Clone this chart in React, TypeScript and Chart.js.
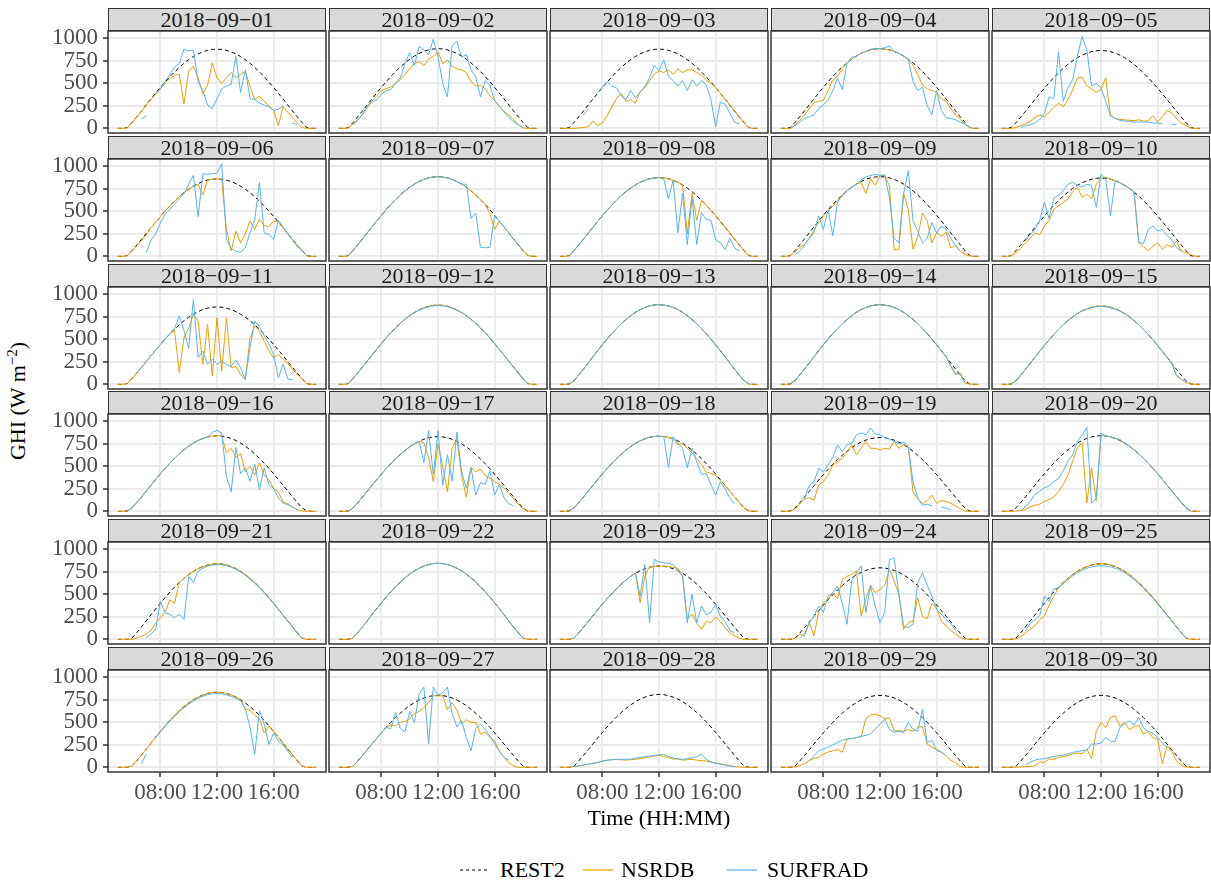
import React, { useEffect, useRef } from "react";
import { Chart, registerables } from "chart.js";

Chart.register(...registerables);

const N = null;

const dates = [
  "2018-09-01", "2018-09-02", "2018-09-03", "2018-09-04", "2018-09-05",
  "2018-09-06", "2018-09-07", "2018-09-08", "2018-09-09", "2018-09-10",
  "2018-09-11", "2018-09-12", "2018-09-13", "2018-09-14", "2018-09-15",
  "2018-09-16", "2018-09-17", "2018-09-18", "2018-09-19", "2018-09-20",
  "2018-09-21", "2018-09-22", "2018-09-23", "2018-09-24", "2018-09-25",
  "2018-09-26", "2018-09-27", "2018-09-28", "2018-09-29", "2018-09-30",
];

const times = [
  "05:00", "05:20", "05:40", "06:00", "06:20", "06:40", "07:00", "07:20", "07:40",
  "08:00", "08:20", "08:40", "09:00", "09:20", "09:40", "10:00", "10:20", "10:40",
  "11:00", "11:20", "11:40", "12:00", "12:20", "12:40", "13:00", "13:20", "13:40",
  "14:00", "14:20", "14:40", "15:00", "15:20", "15:40", "16:00", "16:20", "16:40",
  "17:00", "17:20", "17:40", "18:00", "18:20", "18:40", "19:00",
];

const xTickLabels = ["08:00", "12:00", "16:00"];
const yTicks = [0, 250, 500, 750, 1000];
const legendLabels = ["REST2", "NSRDB", "SURFRAD"];

// REST2 clear-sky curves (W m-2)
const rest2_e880 = [0,0,9,66,128,193,259,325,390,454,515,573,627,677,723,763,798,827,850,867,877,880,877,867,850,827,798,763,723,677,627,573,515,454,390,325,259,193,128,66,9,0,0];
const rest2_e885 = [0,0,9,66,129,194,261,327,392,456,518,576,631,681,727,768,803,832,855,872,882,885,882,872,855,832,803,768,727,681,631,576,518,456,392,327,261,194,129,66,9,0,0];
const rest2_e875 = [0,0,9,66,128,192,258,323,388,451,512,569,624,673,719,759,794,823,845,862,872,875,872,862,845,823,794,759,719,673,624,569,512,451,388,323,258,192,128,66,9,0,0];
const rest2_e870 = [0,0,9,65,127,191,256,321,386,448,509,566,620,670,715,755,789,818,840,857,867,870,867,857,840,818,789,755,715,670,620,566,509,448,386,321,256,191,127,65,9,0,0];
const rest2_e865 = [0,0,9,65,126,190,255,320,384,446,506,563,616,666,711,750,785,813,836,852,862,865,862,852,836,813,785,750,711,666,616,563,506,446,384,320,255,190,126,65,9,0,0];
const rest2_e860 = [0,0,9,65,126,189,253,318,381,443,503,560,613,662,707,746,780,808,831,847,857,860,857,847,831,808,780,746,707,662,613,560,503,443,381,318,253,189,126,65,9,0,0];
const rest2_m885 = [0,0,5,41,104,170,238,307,374,440,504,564,621,673,721,763,800,830,854,871,882,885,882,871,854,830,800,763,721,673,621,564,504,440,374,307,238,170,104,41,5,0,0];
const rest2_m870 = [0,0,5,40,102,167,234,302,368,433,495,555,611,662,709,750,786,816,839,856,867,870,867,856,839,816,786,750,709,662,611,555,495,433,368,302,234,167,102,40,5,0,0];
const rest2_m840 = [0,0,5,39,99,162,226,291,355,418,478,536,590,639,684,724,759,788,810,827,837,840,837,827,810,788,759,724,684,639,590,536,478,418,355,291,226,162,99,39,5,0,0];
const rest2_m835 = [0,0,5,39,98,161,225,289,353,415,475,532,586,635,680,720,755,783,806,822,832,835,832,822,806,783,755,720,680,635,586,532,475,415,353,289,225,161,98,39,5,0,0];
const rest2_m830 = [0,0,4,38,97,160,224,288,351,413,473,529,582,632,676,716,750,778,801,817,827,830,827,817,801,778,750,716,676,632,582,529,473,413,351,288,224,160,97,38,4,0,0];
const rest2_m820 = [0,0,4,38,96,158,221,284,347,408,467,523,575,624,668,707,741,769,791,807,817,820,817,807,791,769,741,707,668,624,575,523,467,408,347,284,221,158,96,38,4,0,0];
const rest2_l845 = [0,0,0,15,75,140,206,274,340,405,468,528,584,636,683,724,761,790,814,831,842,845,842,831,814,790,761,724,683,636,584,528,468,405,340,274,206,140,75,15,0,0,0];
const rest2_l840 = [0,0,0,15,74,139,205,272,338,403,465,525,580,632,679,720,756,786,809,826,837,840,837,826,809,786,756,720,679,632,580,525,465,403,338,272,205,139,74,15,0,0,0];
const rest2_l835 = [0,0,0,15,74,138,204,270,336,400,462,521,577,628,675,716,752,781,805,821,832,835,832,821,805,781,752,716,675,628,577,521,462,400,336,270,204,138,74,15,0,0,0];
const rest2_l815 = [0,0,0,14,72,135,199,264,328,391,451,509,563,613,659,699,734,762,785,802,812,815,812,802,785,762,734,699,659,613,563,509,451,391,328,264,199,135,72,14,0,0,0];
const rest2_l810 = [0,0,0,14,72,134,198,262,326,388,449,506,560,609,654,694,729,758,780,797,807,810,807,797,780,758,729,694,654,609,560,506,449,388,326,262,198,134,72,14,0,0,0];
const rest2_l800 = [0,0,0,14,71,132,195,259,322,384,443,500,553,602,646,686,720,748,771,787,797,800,797,787,771,748,720,686,646,602,553,500,443,384,322,259,195,132,71,14,0,0,0];
const rest2_l795 = [0,0,0,14,70,131,194,257,320,381,440,496,549,598,642,682,716,744,766,782,792,795,792,782,766,744,716,682,642,598,549,496,440,381,320,257,194,131,70,14,0,0,0];

// NSRDB and SURFRAD GHI (W m-2), one pair per day
const nsrdb_01 = [0,0,5,60,125,190,255,318,380,440, 500,555,590,600,270,640,690,560,380,480, 727,560,500,560,620,560,600,633,464,320, 360,300,250,200,30,240,180,120,60,10, 0,0,0];
const surfrad_01 = [N,N,N,N,N,105,140,N,380,440, 520,600,680,720,880,860,870,520,420,260, 220,330,440,470,490,800,400,650,330,320, 280,260,240,200,210,250,N,55,45,N, N,N,N];
const nsrdb_02 = [0,0,5,50,95,150,230,300,360,420, 440,460,500,540,600,660,720,740,700,770, 800,850,720,760,690,660,650,620,520,470, 480,440,360,310,240,190,150,100,40,5, 0,0,0];
const surfrad_02 = [N,N,N,40,90,160,250,300,315,380, 420,430,500,560,720,840,700,910,870,820, 990,800,500,350,920,970,790,820,650,570, 350,530,480,310,250,180,120,75,40,10, N,N,N];
const nsrdb_03 = [0,0,0,0,5,10,20,80,30,60, 140,240,330,390,300,320,280,410,450,530, 600,640,620,650,600,660,620,650,650,620, 590,540,500,454,390,325,259,193,128,66, 9,0,0];
const surfrad_03 = [N,N,N,N,N,150,210,N,400,460, 520,470,450,360,320,420,340,400,470,560, 700,640,760,580,530,470,530,420,540,470, 530,480,320,20,290,270,170,70,50,N, N,N,N];
const nsrdb_04 = [0,0,0,40,90,150,220,285,300,310, 420,540,580,660,727,768,803,832,855,872, 882,885,882,872,855,832,803,768,700,600, 480,440,420,400,330,300,220,150,100,50, 10,0,0];
const surfrad_04 = [N,N,0,30,70,110,130,150,220,260, 315,420,560,430,720,790,800,832,855,880, 890,885,895,915,856,832,803,768,520,420, 460,250,150,420,200,120,110,95,70,45, 10,N,N];
const nsrdb_05 = [0,0,0,10,30,50,80,120,150,130, 180,230,280,240,320,430,560,570,470,440, 400,430,560,150,110,100,95,90,85,95, 80,85,140,70,130,200,170,110,60,30, 5,0,0];
const surfrad_05 = [N,N,N,N,10,30,40,60,100,165, 350,330,850,300,450,540,800,1020,870,470, 500,450,300,140,110,90,80,80,70,70, 70,70,60,60,50,N,40,45,N,N, N,N,N];
const nsrdb_06 = [0,0,9,60,120,170,240,318,381,443, 503,560,613,662,707,746,780,800,680,847, 857,860,857,300,60,280,150,250,393,300, 412,340,330,393,381,318,253,189,126,65, 9,0,0];
const surfrad_06 = [N,N,N,N,N,N,40,180,250,370, 470,520,580,640,700,800,900,440,917,910, 920,925,1030,190,90,56,45,94,262,412, 820,262,243,187,400,330,250,180,110,60, 10,N,N];
const nsrdb_07 = [0,0,9,66,129,194,261,327,392,456, 518,576,631,681,727,768,803,832,855,872, 882,885,882,872,855,832,803,768,727,681, 631,576,480,300,392,327,261,194,129,66, 9,0,0];
const surfrad_07 = [N,N,9,66,129,194,261,327,392,456, 518,576,631,681,727,768,803,832,855,872, 882,885,882,872,855,832,803,800,420,480, 100,95,100,450,392,327,261,194,129,66, N,N,N];
const nsrdb_08 = [0,0,9,66,128,192,258,323,388,451, 512,569,624,673,719,759,794,823,845,862, 872,875,872,862,845,823,794,250,700,400, 624,569,512,451,388,323,258,192,128,66, 9,0,0];
const surfrad_08 = [N,N,9,66,128,192,258,323,388,451, 512,569,624,673,719,759,794,823,845,862, 872,875,860,640,845,262,700,131,650,131, 487,412,400,187,150,75,200,94,60,N, N,N,N];
const nsrdb_09 = [0,0,9,50,100,130,200,290,380,450, 500,560,620,681,727,768,803,820,700,860, 790,900,900,780,75,80,700,520,80,220, 480,400,150,262,220,270,94,120,56,20, 5,0,0];
const surfrad_09 = [N,N,N,20,60,120,200,260,450,300, 520,230,600,681,727,768,803,850,880,900, 910,900,905,650,200,150,700,950,400,280, 150,200,375,260,337,300,200,120,60,N, N,N,N];
const nsrdb_10 = [0,0,9,40,90,150,200,262,240,337, 400,524,562,600,637,720,768,655,690,637, 800,870,880,860,840,818,789,755,715,150, 110,60,110,150,80,130,100,170,60,40, 20,0,0];
const surfrad_10 = [N,N,N,N,N,170,240,300,400,600, 420,650,680,730,800,824,790,770,800,790, 543,910,860,450,840,818,789,755,715,160, 140,300,337,280,300,230,187,100,60,N, N,N,N];
const nsrdb_11 = [0,0,9,65,126,189,253,318,381,443, 503,560,600,130,518,630,777,703,222,667, 93,740,148,740,185,200,111,55,518,648, 592,481,370,296,330,280,230,170,110,55, 9,0,0];
const surfrad_11 = [N,N,N,N,126,189,253,318,381,443, 503,560,620,760,600,400,944,300,370,222, 280,222,259,222,200,270,185,55,407,703, 640,540,450,330,74,222,60,50,N,N, N,N,N];
const nsrdb_12 = [0,0,9,66,128,193,259,325,390,454, 515,573,627,677,723,763,798,827,850,867, 877,882,877,867,850,827,798,763,723,677, 627,573,515,454,390,325,259,193,120,60, 9,0,0];
const surfrad_12 = [N,N,9,66,128,193,259,325,390,454, 515,573,627,677,723,763,798,825,846,862, 872,875,872,862,846,825,798,763,723,677, 627,573,515,454,390,325,259,193,128,66, 9,N,N];
const nsrdb_13 = [0,0,5,41,104,170,238,307,374,440, 504,564,621,673,721,763,800,830,854,871, 882,885,882,871,854,830,800,763,721,673, 621,564,504,440,374,307,238,170,104,41, 5,0,0];
const surfrad_13 = [N,N,5,41,104,170,238,307,374,440, 504,564,621,673,721,763,800,830,854,871, 882,885,882,871,854,830,800,763,721,673, 621,564,504,440,374,307,238,170,104,41, 5,N,N];
const nsrdb_14 = [0,0,5,50,104,170,238,307,374,440, 504,564,621,673,721,763,800,830,854,871, 882,885,882,871,854,830,800,763,721,673, 621,564,504,440,374,307,200,110,125,15, 5,0,0];
const surfrad_14 = [N,N,5,41,104,170,238,307,374,440, 504,564,621,673,721,763,800,830,854,871, 880,883,880,871,854,830,800,763,721,673, 621,564,504,440,374,307,210,120,110,20, N,N,N];
const nsrdb_15 = [0,0,5,40,102,167,234,302,368,433, 495,555,611,662,709,750,786,816,839,856, 867,870,867,856,839,816,786,750,709,662, 611,555,495,433,368,302,234,93,56,20, 5,0,0];
const surfrad_15 = [N,N,5,40,102,167,234,302,368,433, 495,555,611,662,709,750,786,816,836,852, 862,865,862,852,836,816,786,750,709,662, 611,555,495,433,368,302,234,100,60,20, N,N,N];
const nsrdb_16 = [0,0,5,39,99,162,226,291,355,418, 478,536,590,639,684,724,759,788,810,827, 837,840,837,650,700,600,640,440,500,403, 540,403,350,254,217,104,85,48,20,5, 0,0,0];
const surfrad_16 = [N,N,5,39,99,162,226,291,355,418, 478,536,590,639,684,724,759,788,810,827, 877,900,870,385,217,709,420,480,336,522, 242,485,290,254,150,90,75,48,20,N, N,N,N];
const nsrdb_17 = [0,0,4,38,97,160,224,288,351,413, 473,529,582,632,676,716,750,778,760,600, 330,750,500,217,700,807,400,160,485,440, 470,400,370,330,300,260,200,140,80,30, 4,0,0];
const surfrad_17 = [N,N,4,38,97,160,224,288,351,413, 473,529,582,632,676,716,750,778,540,895, 410,895,290,630,336,880,440,260,485,180, 320,300,450,180,300,150,86,60,N,N, N,N,N];
const nsrdb_18 = [0,0,5,39,98,161,225,289,353,415, 475,532,586,635,680,720,755,783,806,822, 832,835,832,822,806,740,755,700,650,586, 520,440,420,400,340,289,225,161,98,39, 5,0,0];
const surfrad_18 = [N,N,5,39,98,161,225,289,353,415, 475,532,586,635,680,720,755,783,806,822, 832,835,832,487,830,760,700,485,700,550, 410,420,300,180,330,250,150,80,N,N, N,N,N];
const nsrdb_19 = [0,0,0,30,80,140,150,123,291,330, 403,515,552,590,664,739,627,700,776,701, 700,683,700,690,776,700,740,720,216,142, 86,120,180,90,120,110,90,60,30,5, 0,0,0];
const surfrad_19 = [N,N,N,N,N,142,291,328,478,440, 515,600,739,664,740,757,850,870,850,925, 860,850,820,800,780,750,770,720,328,150, 67,80,60,N,45,35,20,N,N,N, N,N,N];
const nsrdb_20 = [0,0,0,5,10,20,50,67,80,110, 130,160,220,300,400,560,709,760,93,485, 120,840,837,827,810,788,759,724,684,639, 590,536,478,418,355,291,226,162,99,39, 5,0,0];
const surfrad_20 = [N,N,N,N,10,50,112,187,224,261, 280,330,366,450,560,627,776,850,933,90, 140,870,837,827,810,800,759,724,684,639, 590,536,478,418,355,291,226,162,99,39, 5,N,N];
const nsrdb_21 = [0,0,0,0,15,35,56,100,180,240, 300,440,400,630,680,720,756,786,809,826, 837,840,837,826,809,786,756,720,679,632, 580,525,465,403,338,272,205,139,74,15, 0,0,0];
const surfrad_21 = [N,N,N,N,N,N,20,60,111,420, 296,280,240,280,222,700,630,760,790,815, 825,830,828,818,800,777,748,712,670,624, 572,518,458,396,332,266,200,134,70,12, N,N,N];
const nsrdb_22 = [0,0,0,15,75,140,206,274,340,405, 468,528,584,636,683,724,761,790,814,831, 842,845,842,831,814,790,761,724,683,636, 584,528,468,405,340,274,206,140,75,15, 0,0,0];
const surfrad_22 = [N,N,N,15,75,140,206,274,340,405, 468,528,584,636,683,724,761,790,814,831, 842,845,842,831,814,790,761,724,683,636, 584,528,468,405,340,274,206,130,75,15, N,N,N];
const nsrdb_23 = [0,0,0,14,72,135,199,264,328,391, 451,509,563,613,659,699,734,407,700,810, 810,815,812,810,800,790,700,222,280,180, 111,200,185,250,200,130,70,40,10,0, 0,0,0];
const surfrad_23 = [N,N,N,14,72,135,199,264,328,391, 451,509,563,613,659,699,734,480,830,185, 888,860,850,845,830,760,703,185,500,180, 370,270,300,389,259,200,100,70,N,N, N,N,N];
const nsrdb_24 = [0,0,0,10,56,37,185,40,300,407, 444,518,450,667,700,722,760,259,450,600, 520,555,600,778,650,500,111,185,200,463, 250,230,400,350,200,150,100,60,20,5, 0,0,0];
const surfrad_24 = [N,N,N,N,20,60,185,259,370,300, 481,520,592,400,167,650,740,815,300,592, 370,185,300,880,907,500,148,130,170,630, 740,600,480,333,280,220,180,100,N,N, N,N,N];
const nsrdb_25 = [0,0,0,5,30,70,111,150,220,259, 380,480,570,632,679,720,756,786,809,826, 837,840,837,826,809,786,756,720,679,632, 580,525,465,403,338,272,205,139,74,15, 0,0,0];
const surfrad_25 = [N,N,N,N,N,90,180,220,260,481, 420,560,570,620,665,705,740,768,790,806, 815,818,815,806,790,768,740,705,665,620, 568,514,455,394,330,265,200,135,70,14, N,N,N];
const nsrdb_26 = [0,0,0,15,74,138,204,270,336,400, 462,521,577,628,675,716,752,781,805,821, 832,835,832,821,805,781,752,650,630,580, 540,380,460,400,336,270,204,138,74,15, 0,0,0];
const surfrad_26 = [N,N,N,N,N,40,150,N,330,395, 455,512,566,616,662,702,738,767,790,806, 817,820,817,806,790,767,738,650,444,145, 630,481,255,380,293,250,180,110,N,N, N,N,N];
const nsrdb_27 = [0,0,0,14,71,132,195,259,322,384, 443,470,463,500,510,537,600,620,664,720, 795,795,795,640,720,640,481,530,499,499, 370,390,330,295,180,110,52,15,0,0, 0,0,0];
const surfrad_27 = [N,N,N,14,71,132,195,259,322,384, 443,430,611,432,395,620,500,817,892,258, 892,800,830,892,600,450,520,332,183,430, 480,420,350,260,180,110,80,N,N,N, N,N,N];
const nsrdb_28 = [0,0,0,10,15,25,33,45,55,70, 80,85,89,85,80,85,90,95,105,115, 125,135,120,110,90,95,80,85,90,80, 75,70,60,50,40,30,20,10,5,0, 0,0,0];
const surfrad_28 = [N,N,N,10,18,28,35,45,55,68, 78,85,88,90,89,92,100,110,120,127, 130,140,145,120,105,95,90,95,105,120, 150,90,60,45,35,25,15,8,N,N, N,N,N];
const nsrdb_29 = [0,0,0,5,20,41,74,100,111,148, 170,185,200,167,315,320,333,340,540,580, 592,574,540,550,407,407,400,420,400,450, 450,259,222,200,170,130,80,50,10,0, 0,0,0];
const surfrad_29 = [N,N,N,N,N,N,74,130,185,204, 225,250,277,300,315,320,330,345,355,370, 426,480,537,420,389,400,390,500,420,400, 648,277,300,185,170,130,N,N,N,N, N,N,N];
const nsrdb_30 = [0,0,0,2,5,8,12,18,60,56, 93,90,111,120,130,148,160,150,204,93, 400,500,440,555,574,460,500,420,450,470, 370,400,330,315,40,240,180,70,25,5, 0,0,0];
const surfrad_30 = [N,N,N,N,N,30,56,80,93,95, 111,120,130,135,150,167,175,185,193,260, 260,270,333,290,290,444,481,518,470,555, 440,400,380,333,270,220,N,N,N,N, N,N,N];

const rest2ByDay = [
  rest2_e880, rest2_e885, rest2_e880, rest2_e885, rest2_e865,
  rest2_e860, rest2_e885, rest2_e875, rest2_e885, rest2_e870,
  rest2_e860, rest2_e880, rest2_m885, rest2_m885, rest2_m870,
  rest2_m840, rest2_m830, rest2_m835, rest2_m820, rest2_m840,
  rest2_l840, rest2_l845, rest2_l815, rest2_l795, rest2_l840,
  rest2_l835, rest2_l800, rest2_l810, rest2_l800, rest2_l800,
];
const nsrdbByDay = [
  nsrdb_01, nsrdb_02, nsrdb_03, nsrdb_04, nsrdb_05, nsrdb_06, nsrdb_07, nsrdb_08, nsrdb_09, nsrdb_10,
  nsrdb_11, nsrdb_12, nsrdb_13, nsrdb_14, nsrdb_15, nsrdb_16, nsrdb_17, nsrdb_18, nsrdb_19, nsrdb_20,
  nsrdb_21, nsrdb_22, nsrdb_23, nsrdb_24, nsrdb_25, nsrdb_26, nsrdb_27, nsrdb_28, nsrdb_29, nsrdb_30,
];
const surfradByDay = [
  surfrad_01, surfrad_02, surfrad_03, surfrad_04, surfrad_05, surfrad_06, surfrad_07, surfrad_08, surfrad_09, surfrad_10,
  surfrad_11, surfrad_12, surfrad_13, surfrad_14, surfrad_15, surfrad_16, surfrad_17, surfrad_18, surfrad_19, surfrad_20,
  surfrad_21, surfrad_22, surfrad_23, surfrad_24, surfrad_25, surfrad_26, surfrad_27, surfrad_28, surfrad_29, surfrad_30,
];

const COLORS = { rest2: "#000000", nsrdb: "#E69F00", surfrad: "#56B4E9" };
const FONT = "'Liberation Serif', 'Times New Roman', Times, serif";

const toHours = (s: string) => {
  const [h, m] = s.split(":").map(Number);
  return h + m / 60;
};
const hours = times.map(toHours);

// layout (pixels)
const PANEL_LEFT = [108, 329, 550, 771, 992];
const PANEL_W = 218;
const PANEL_H = 102;
const STRIP_H = 23;
const ROW_PITCH = 127.8;
const stripTop = (r: number) => Math.round(8 + r * ROW_PITCH);

const borderPlugin = {
  id: "panelBorder",
  afterDatasetsDraw(chart: any) {
    const { ctx, chartArea: a } = chart;
    ctx.save();
    ctx.strokeStyle = "#333333";
    ctx.lineWidth = 1.5;
    ctx.strokeRect(a.left, a.top, a.right - a.left, a.bottom - a.top);
    ctx.restore();
  },
};

function Panel({ day }: { day: number }) {
  const ref = useRef<HTMLCanvasElement | null>(null);
  const col = day % 5;
  const row = Math.floor(day / 5);
  const isLeft = col === 0;
  const isBottom = row === 5;
  const yAxisW = isLeft ? 70 : 0;
  const padL = isLeft ? 0 : 4;
  const padR = 4;
  const padT = 24;
  const xAxisH = isBottom ? 36 : 0;
  const padB = isBottom ? 0 : 24;
  const panelTop = stripTop(row) + STRIP_H;
  const left = PANEL_LEFT[col] - yAxisW - padL;
  const top = panelTop - padT;
  const w = yAxisW + padL + PANEL_W + padR;
  const h = padT + PANEL_H + xAxisH + padB;

  useEffect(() => {
    if (!ref.current) return;
    const mk = (arr: (number | null)[]) => arr.map((v, i) => ({ x: hours[i], y: v }));
    const common = { pointRadius: 0, borderWidth: 1, tension: 0, spanGaps: false, borderJoinStyle: "round" as const };
    const chart = new Chart(ref.current, {
      type: "line",
      data: {
        datasets: [
          { label: legendLabels[0], data: mk(rest2ByDay[day]), borderColor: COLORS.rest2, borderDash: [4, 3], order: 3, ...common },
          { label: legendLabels[1], data: mk(nsrdbByDay[day]), borderColor: COLORS.nsrdb, order: 2, ...common },
          { label: legendLabels[2], data: mk(surfradByDay[day]), borderColor: COLORS.surfrad, order: 1, ...common },
        ],
      },
      options: {
        animation: false,
        responsive: false,
        devicePixelRatio: 1,
        events: [],
        layout: { padding: { left: padL, right: padR, top: padT, bottom: padB } },
        plugins: { legend: { display: false }, tooltip: { enabled: false }, title: { display: false } },
        scales: {
          x: {
            type: "linear",
            min: 4.3,
            max: 19.7,
            bounds: "data",
            afterBuildTicks: (s: any) => {
              s.ticks = xTickLabels.map((t) => ({ value: toHours(t) }));
            },
            afterFit: (s: any) => {
              s.height = xAxisH;
            },
            ticks: {
              display: isBottom,
              autoSkip: false,
              maxRotation: 0,
              minRotation: 0,
              padding: 2,
              color: "#4D4D4D",
              font: { family: FONT, size: 23 },
              callback: (v: any) => {
                const found = xTickLabels.find((t) => Math.abs(toHours(t) - Number(v)) < 1e-6);
                return found ?? "";
              },
            },
            grid: { color: "#EBEBEB", lineWidth: 2, drawTicks: isBottom, tickLength: 5, tickColor: "#333333", tickWidth: 1.5 },
            border: { display: false },
          },
          y: {
            type: "linear",
            min: -51.5,
            max: 1081.5,
            bounds: "data",
            afterBuildTicks: (s: any) => {
              s.ticks = yTicks.map((v) => ({ value: v }));
            },
            afterFit: (s: any) => {
              s.width = yAxisW;
            },
            ticks: {
              display: isLeft,
              autoSkip: false,
              padding: 5,
              color: "#4D4D4D",
              font: { family: FONT, size: 23 },
              callback: (v: any) => String(v),
            },
            grid: { color: "#EBEBEB", lineWidth: 2, drawTicks: isLeft, tickLength: 5, tickColor: "#333333", tickWidth: 1.5 },
            border: { display: false },
          },
        },
      } as any,
      plugins: [borderPlugin],
    });
    return () => chart.destroy();
  }, [day]);

  return (
    <>
      <div
        style={{
          position: "absolute",
          left: PANEL_LEFT[col],
          top: stripTop(row),
          width: PANEL_W,
          height: STRIP_H,
          boxSizing: "border-box",
          background: "#D9D9D9",
          border: "1.5px solid #333333",
          display: "flex",
          alignItems: "center",
          justifyContent: "center",
          fontFamily: FONT,
          fontSize: 22,
          color: "#1A1A1A",
          lineHeight: 1,
          whiteSpace: "nowrap",
        }}
      >
        {dates[day].replace(/-/g, "\u2212")}
      </div>
      <canvas
        ref={ref}
        width={w}
        height={h}
        style={{ position: "absolute", left, top, width: w, height: h }}
      />
    </>
  );
}

function LegendKey({ x, color, dashed }: { x: number; color: string; dashed?: boolean }) {
  return (
    <svg width={30} height={6} style={{ position: "absolute", left: x, top: 867 }}>
      <line x1={0} y1={3} x2={30} y2={3} stroke={color} strokeWidth={1.2} strokeDasharray={dashed ? "3 3" : undefined} />
    </svg>
  );
}

export default function App() {
  const textStyle: React.CSSProperties = {
    position: "absolute",
    fontFamily: FONT,
    fontSize: 22,
    color: "#000000",
    whiteSpace: "nowrap",
    lineHeight: 1,
  };
  return (
    <div
      style={{
        position: "absolute",
        left: 0,
        top: 0,
        width: 1211,
        height: 885,
        background: "#FFFFFF",
        overflow: "hidden",
      }}
    >
      {dates.map((_, i) => (
        <Panel key={i} day={i} />
      ))}
      <div
        style={{
          ...textStyle,
          left: 18,
          top: 401,
          transform: "translate(-50%, -50%) rotate(-90deg)",
        }}
      >
        GHI (W m<sup style={{ fontSize: 15, verticalAlign: "8px", lineHeight: 0 }}>{"\u22122"}</sup>)
      </div>
      <div style={{ ...textStyle, left: 659, top: 818, transform: "translate(-50%, -50%)" }}>Time (HH:MM)</div>
      <LegendKey x={460} color={COLORS.rest2} dashed />
      <div style={{ ...textStyle, left: 500, top: 870, transform: "translateY(-50%)" }}>{legendLabels[0]}</div>
      <LegendKey x={583} color={COLORS.nsrdb} />
      <div style={{ ...textStyle, left: 621, top: 870, transform: "translateY(-50%)" }}>{legendLabels[1]}</div>
      <LegendKey x={727} color={COLORS.surfrad} />
      <div style={{ ...textStyle, left: 767, top: 870, transform: "translateY(-50%)" }}>{legendLabels[2]}</div>
    </div>
  );
}
